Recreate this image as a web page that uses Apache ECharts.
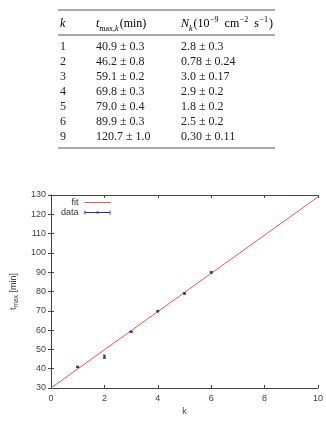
<!DOCTYPE html>
<html>
<head>
<meta charset="utf-8">
<title>t_max vs k</title>
<script src="https://cdn.jsdelivr.net/npm/echarts@6/dist/echarts.min.js"></script>
<style>
html, body { margin: 0; padding: 0; background: #fff; }
#main { width: 326px; height: 422px; }
</style>
</head>
<body>
<div id="main"></div>
<script>
// table values (k = 9 is in the table only, not in the plot)
var kList = [1, 2, 3, 4, 5, 6, 9];
var tMax = [40.9, 46.2, 59.1, 69.8, 79.0, 89.9, 120.7];
var tErr = [0.3, 0.8, 0.2, 0.3, 0.4, 0.3, 1.0];
var nVal = ['2.8', '0.78', '3.0', '2.9', '1.8', '2.5', '0.30'];
var nErr = ['0.3', '0.24', '0.17', '0.2', '0.2', '0.2', '0.11'];
var plotCount = 6;
// fit line endpoints
var fitK = [0, 10];
var fitT = [30.0, 129.0];

var RED = '#ec5a48';
var BLUE = '#2f2f9c';
var AXIS = '#444';
var serif = '"Liberation Serif", "Times New Roman", serif';
var sans = '"Liberation Sans", Arial, sans-serif';

var chart = echarts.init(document.getElementById('main'), null, { renderer: 'canvas' });

// table drawn with graphic texts
var graphics = [];
var tblL = 58, tblR = 275;
[10, 35, 148].forEach(function (y) {
  graphics.push({ type: 'line', shape: { x1: tblL, y1: y, x2: tblR, y2: y },
    style: { stroke: '#555', lineWidth: 1 } });
});
var base = { fontFamily: serif, fontSize: 12, fill: '#222', verticalAlign: 'middle' };
var rich = {
  i: { fontFamily: serif, fontSize: 12, fontStyle: 'italic', lineHeight: 17, verticalAlign: 'middle', color: '#222' },
  r: { fontFamily: serif, fontSize: 12, lineHeight: 17, verticalAlign: 'middle', color: '#222' },
  rs: { fontFamily: serif, fontSize: 12, lineHeight: 17, verticalAlign: 'middle', color: '#222', padding: [0, 0, 0, 2] },
  sub: { fontFamily: serif, fontSize: 8, lineHeight: 10, verticalAlign: 'bottom', color: '#222' },
  subi: { fontFamily: serif, fontSize: 8, fontStyle: 'italic', lineHeight: 10, verticalAlign: 'bottom', color: '#222', padding: [0, 1, 0, 0] },
  sup: { fontFamily: serif, fontSize: 8, lineHeight: 10, verticalAlign: 'top', color: '#222', padding: [0, 1, 0, 0.5] }
};
graphics.push({ type: 'text', x: 60, y: 24, style: { text: '{i|k}', rich: rich, verticalAlign: 'middle' } });
graphics.push({ type: 'text', x: 96, y: 24, style: { text: '{i|t}{sub|max,}{subi|k}{r|(min)}', rich: rich, verticalAlign: 'middle' } });
graphics.push({ type: 'text', x: 181, y: 24, style: { text: '{i|N}{subi|k}{r|(10}{sup|\u22129}{rs| cm}{sup|\u22122}{rs| s}{sup|\u22121}{r|)}', rich: rich, verticalAlign: 'middle' } });
for (var i = 0; i < kList.length; i++) {
  var y = 47 + i * 15;
  graphics.push({ type: 'text', x: 60, y: y, style: Object.assign({ text: String(kList[i]) }, base) });
  graphics.push({ type: 'text', x: 96, y: y, style: Object.assign({ text: tMax[i].toFixed(1) + ' \u00b1 ' + tErr[i].toFixed(1) }, base) });
  graphics.push({ type: 'text', x: 181, y: y, style: Object.assign({ text: nVal[i] + ' \u00b1 ' + nErr[i] }, base) });
}

var pts = [], bars = [];
for (var j = 0; j < plotCount; j++) {
  pts.push([kList[j], tMax[j]]);
  bars.push([kList[j], tMax[j], tErr[j]]);
}
var fitData = fitK.map(function (k, n) { return [k, fitT[n]]; });

var axisCommon = {
  type: 'value',
  axisLine: { show: true, lineStyle: { color: AXIS, width: 1 } },
  axisTick: { show: true, inside: true, length: 3, lineStyle: { color: AXIS } },
  splitLine: { show: false },
  axisLabel: { color: '#444', fontFamily: sans, fontSize: 9 }
};

var option = {
  animation: false,
  graphic: graphics,
  grid: { left: 51, right: 6, top: 195, bottom: 34 },
  legend: {
    orient: 'vertical',
    align: 'right',
    left: 61,
    top: 198,
    padding: 0,
    itemGap: 1,
    itemWidth: 26,
    itemHeight: 6,
    textStyle: { fontFamily: sans, fontSize: 9, color: '#333', padding: [0, 1, 0, 0] },
    data: [
      { name: 'fit', icon: 'path://M0,0L0,0.01ZM0,2.5H26V3.5H0ZM26,6L26,5.99Z', itemStyle: { color: RED } },
      { name: 'data', icon: 'path://M0,1H0.8V5H0ZM0,2.6H26V3.4H0ZM25.2,1H26V5H25.2ZM12,2H14V4H12ZM0,0L0,0.01ZM26,6L26,5.99Z', itemStyle: { color: BLUE } }
    ]
  },
  xAxis: [
    Object.assign({}, axisCommon, {
      min: 0, max: 10, interval: 2,
      name: 'k', nameLocation: 'middle', nameGap: 19,
      nameTextStyle: { fontFamily: sans, fontSize: 9, color: '#444' },
      axisLabel: Object.assign({}, axisCommon.axisLabel, { margin: 6 })
    }),
    Object.assign({}, axisCommon, {
      min: 0, max: 10, interval: 2, position: 'top',
      axisLabel: { show: false }
    })
  ],
  yAxis: [
    Object.assign({}, axisCommon, {
      min: 30, max: 130, interval: 10,
      name: '{a|t}{b|max}{a| [min]}', nameLocation: 'middle', nameGap: 26,
      nameTextStyle: {
        rich: {
          a: { fontFamily: sans, fontSize: 9, color: '#444', lineHeight: 13, verticalAlign: 'middle' },
          b: { fontFamily: sans, fontSize: 6.5, color: '#444', lineHeight: 8, verticalAlign: 'bottom' }
        }
      },
      axisLabel: Object.assign({}, axisCommon.axisLabel, { margin: 5 })
    }),
    Object.assign({}, axisCommon, {
      min: 30, max: 130, interval: 10, position: 'right',
      axisLabel: { show: false }
    })
  ],
  series: [
    {
      name: 'fit', type: 'line', data: fitData, showSymbol: false,
      lineStyle: { color: RED, width: 1 }, itemStyle: { color: RED }, z: 2
    },
    {
      name: 'data', type: 'custom', data: bars, z: 3,
      renderItem: function (params, api) {
        var x = api.value(0), v = api.value(1), e = api.value(2);
        var hi = api.coord([x, v + e]), lo = api.coord([x, v - e]);
        var c = 1.5;
        var st = { stroke: BLUE, lineWidth: 1 };
        return { type: 'group', children: [
          { type: 'line', shape: { x1: hi[0], y1: hi[1], x2: lo[0], y2: lo[1] }, style: st },
          { type: 'line', shape: { x1: hi[0] - c, y1: hi[1], x2: hi[0] + c, y2: hi[1] }, style: st },
          { type: 'line', shape: { x1: lo[0] - c, y1: lo[1], x2: lo[0] + c, y2: lo[1] }, style: st }
        ] };
      },
      itemStyle: { color: BLUE }
    },
    {
      name: 'data', type: 'scatter', data: pts, symbol: 'rect', symbolSize: 2.5,
      itemStyle: { color: BLUE }, z: 4
    }
  ]
};

chart.setOption(option);
window.onresize = function () {
  chart.resize();
};
</script>
</body>
</html>
